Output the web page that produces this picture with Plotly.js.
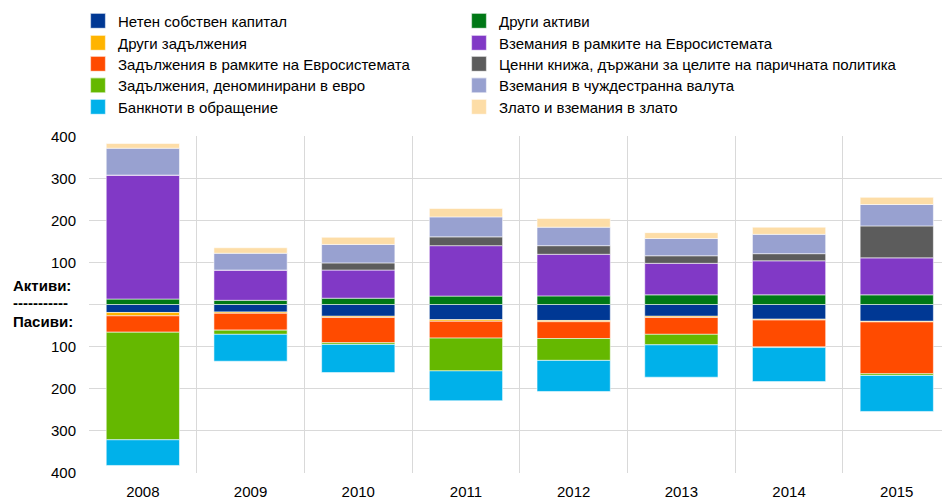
<!DOCTYPE html>
<html>
<head>
<meta charset="utf-8">
<script src="https://cdn.plot.ly/plotly-3.0.1.min.js"></script>
<style>html,body{margin:0;padding:0;background:#fff}#chart{width:942px;height:499px}</style>
</head>
<body>
<div id="chart"></div>
<script>
// Categories
const years = [2008, 2009, 2010, 2011, 2012, 2013, 2014, 2015];
const yTickVals = [-400, -300, -200, -100, 0, 100, 200, 300, 400];
const yTickText = ['400', '300', '200', '100', '', '100', '200', '300', '400'];

// Assets (Активи), EUR bn
const otherAssets      = [13, 10, 15, 20, 20.5, 23, 23, 23];
const eurosystemClaims = [295, 72, 67, 120, 99, 75, 81, 88];
const securitiesMP     = [0, 0, 17, 21, 20.5, 18, 17, 76];
const foreignCurrency  = [64, 40, 44, 47.5, 44, 41, 46, 51];
const goldClaims       = [11, 13, 17, 20, 20.5, 14, 17, 17];

// Liabilities (Пасиви), EUR bn (magnitudes, drawn downward)
const netEquity        = [19, 18, 28, 36, 38, 28, 35, 40];
const otherLiabilities = [8, 3, 3, 4, 3, 3, 2, 1.5];
const eurosystemLiab   = [39, 40, 60, 40, 40, 40, 64, 123.5];
const euroLiab         = [256, 10, 4, 78, 52, 25, 1.5, 4];
const banknotes        = [61, 64, 67, 71, 74, 77, 81, 85.5];

const neg = a => a.map(v => -v);
const line = {color: 'rgba(255,255,255,0.55)', width: 1};

const font = {family: '"Liberation Sans", Arial, sans-serif', size: 15, color: '#000'};
const legendBase = {orientation: 'v', xref: 'container', yref: 'container',
  xanchor: 'left', yanchor: 'top', font: font, bgcolor: 'rgba(0,0,0,0)',
  itemclick: false, itemdoubleclick: false};

// legend grid: column (0 = liabilities, 1 = assets), row 0..4
const colX = [78, 459];
const rowCenter = [20, 42, 63, 84.5, 106];

const series = [
  ['Нетен собствен капитал', neg(netEquity), '#003894', 0, 0],
  ['Други активи', otherAssets, '#007816', 1, 0],
  ['Други задължения', neg(otherLiabilities), '#FFB400', 0, 1],
  ['Вземания в рамките на Евросистемата', eurosystemClaims, '#8139C6', 1, 1],
  ['Задължения в рамките на Евросистемата', neg(eurosystemLiab), '#FF4B00', 0, 2],
  ['Ценни книжа, държани за целите на паричната политика', securitiesMP, '#5C5C5C', 1, 2],
  ['Задължения, деноминирани в евро', neg(euroLiab), '#65B800', 0, 3],
  ['Вземания в чуждестранна валута', foreignCurrency, '#98A1D0', 1, 3],
  ['Банкноти в обращение', neg(banknotes), '#00B1EA', 0, 4],
  ['Злато и вземания в злато', goldClaims, '#FDDDA7', 1, 4]
];

const W = 942, H = 499;
const traces = [];
const legends = {};
series.forEach((s, i) => {
  const id = i === 0 ? 'legend' : 'legend' + (i + 1);
  traces.push({type: 'bar', x: years, y: s[1], name: s[0], legend: id,
    marker: {color: s[2], line: line}, hoverinfo: 'name+y'});
  legends[id] = Object.assign({}, legendBase, {
    x: colX[s[3]] / W,
    y: 1 - (rowCenter[s[4]] - 15.5) / H
  });
});

const layout = Object.assign({
  width: W, height: H,
  margin: {l: 89, r: 0, t: 136, b: 26, pad: 0, autoexpand: false},
  paper_bgcolor: '#fff', plot_bgcolor: '#fff',
  font: font,
  barmode: 'relative',
  bargap: 0.32,
  showlegend: true,
  xaxis: {
    type: 'linear', range: [2007.5, 2015.42],
    tickmode: 'array', tickvals: years, ticktext: years.map(String),
    showgrid: false, zeroline: false, showline: false,
    ticks: '', ticklabelstandoff: 8,
    tickfont: {family: font.family, size: 15, color: '#000'},
    minor: {tick0: 2007.5, dtick: 1, showgrid: true, gridcolor: '#d9d9d9', gridwidth: 1, ticks: ''}
  },
  yaxis: {
    range: [-401, 401],
    tickmode: 'array', tickvals: yTickVals, ticktext: yTickText,
    showgrid: true, gridcolor: '#d9d9d9', gridwidth: 1,
    zeroline: true, zerolinecolor: '#d9d9d9', zerolinewidth: 1.5,
    showline: false, ticks: '', ticklabelstandoff: 12,
    tickfont: {family: font.family, size: 15, color: '#000'}
  },
  annotations: [
    {text: '<b>Активи:</b>', xref: 'paper', yref: 'y', x: -0.0914, y: 46, xanchor: 'left', yanchor: 'middle', showarrow: false, font: font},
    {text: '<b>-----------</b>', xref: 'paper', yref: 'y', x: -0.0914, y: 4, xanchor: 'left', yanchor: 'middle', showarrow: false, font: font},
    {text: '<b>Пасиви:</b>', xref: 'paper', yref: 'y', x: -0.0914, y: -40, xanchor: 'left', yanchor: 'middle', showarrow: false, font: font}
  ]
}, legends);

Plotly.newPlot('chart', traces, layout, {staticPlot: true, displayModeBar: false}).then(function (gd) {
  // enlarge the legend colour squares to match the reference (15px)
  gd.querySelectorAll('.legendpoints path').forEach(function (p) {
    const t = p.getAttribute('transform') || '';
    p.setAttribute('transform', t + ' scale(1.25)');
  });
});
</script>
</body>
</html>
